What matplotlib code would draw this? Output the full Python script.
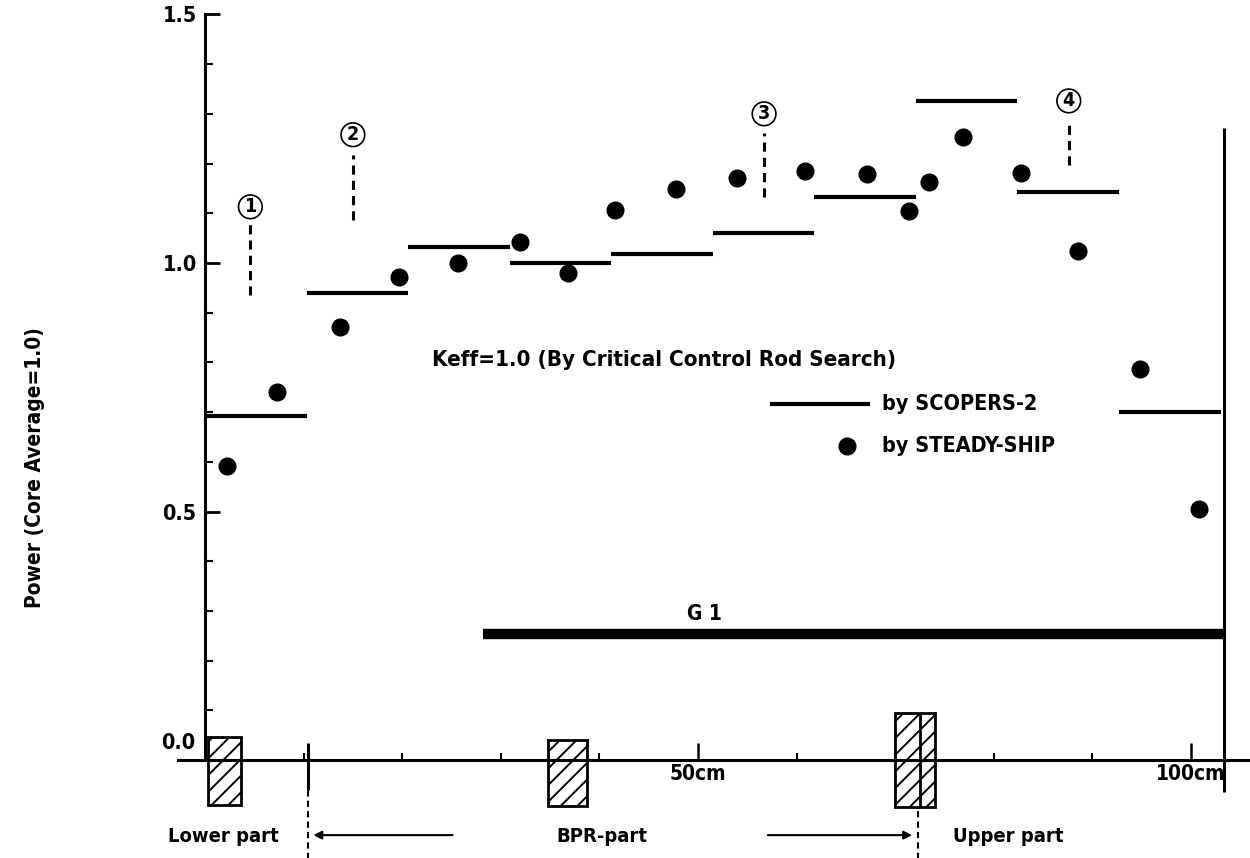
"""
Axial power distribution: SCOPERS-2 node powers vs STEADY-SHIP points.
"""
import matplotlib
matplotlib.use("Agg")
import matplotlib.pyplot as plt
from matplotlib.patches import Rectangle

plt.rcParams["font.family"] = ["DejaVu Sans"]
plt.rcParams["font.stretch"] = "condensed"
plt.rcParams["font.weight"] = "bold"
plt.rcParams["hatch.linewidth"] = 1.4

# SCOPERS-2 node boundaries (cm) and node powers
node_edges = [0.0, 10.3, 20.6, 30.9, 41.2, 51.5, 61.8, 72.1, 82.4, 92.7, 103.0]
scopers_power = [0.692, 0.940, 1.032, 1.000, 1.018, 1.060, 1.133, 1.326, 1.143, 0.700]

# STEADY-SHIP points
steady_z = [2.2, 7.3, 13.7, 19.7, 25.7, 31.9, 36.8, 41.6, 47.8, 54.0,
            60.8, 67.1, 71.4, 73.4, 76.9, 82.8, 88.5, 94.8, 100.8]
steady_power = [0.592, 0.740, 0.871, 0.972, 1.000, 1.042, 0.980, 1.107, 1.149, 1.171,
                1.185, 1.179, 1.105, 1.163, 1.254, 1.181, 1.024, 0.787, 0.505]

# G1 rod insertion
g1_span = (28.2, 103.3)
g1_level = 0.254

# grid spacers (hatched) along the axis
spacer_spans = [(0.3, 3.7), (34.8, 38.7), (70.0, 74.0)]
spacer_top = [0.046, 0.040, 0.095]
spacer_bottom = [-0.091, -0.093, -0.095]

# numbered marks
mark_labels = ["1", "2", "3", "4"]
mark_z = [4.6, 15.0, 56.7, 87.6]
mark_level = [1.113, 1.258, 1.300, 1.326]
mark_dash_lo = [0.936, 1.087, 1.133, 1.197]
mark_dash_hi = [1.080, 1.217, 1.262, 1.288]

part_labels = ["Lower part", "BPR-part", "Upper part"]
part_z = [1.9, 40.3, 81.5]
bpr_start, bpr_end = 10.4, 72.3
core_top = 103.3

fig = plt.figure(figsize=(12.5, 8.58), dpi=100)
ax = fig.add_axes([0, 0, 1, 1])
ax.set_xlim(-20.79, 105.98)
ax.set_ylim(-0.197, 1.529)

for side in ["top", "right"]:
    ax.spines[side].set_visible(False)
ax.spines["left"].set_position(("data", 0))
ax.spines["left"].set_bounds(0, 1.5)
ax.spines["bottom"].set_position(("data", 0))
ax.spines["bottom"].set_bounds(-2.7, 105.98)
for side in ["left", "bottom"]:
    ax.spines[side].set_linewidth(2.2)

ax.set_yticks([0.5, 1.0, 1.5], ["0.5", "1.0", "1.5"])
ax.set_yticks([v / 10 for v in range(1, 15) if v % 5], minor=True)
ax.set_xticks([50, 100], ["50cm", "100cm"])
ax.set_xticks([10, 20, 30, 40, 60, 70, 80, 90], minor=True)
ax.tick_params(axis="y", which="major", direction="in", length=11, width=2,
               labelsize=15.5, pad=6)
ax.tick_params(axis="y", which="minor", direction="in", length=6, width=1.5)
ax.tick_params(axis="x", which="major", direction="in", length=12, width=1.8,
               labelsize=15, pad=3)
ax.tick_params(axis="x", which="minor", direction="in", length=5, width=1.5)
ax.text(-1.0, 0.035, "0.0", ha="right", va="center", fontsize=15.5)

ax.text(-17.2, 0.588, "Power (Core Average=1.0)", rotation=90,
        ha="center", va="center", fontsize=15)

# SCOPERS-2 steps and STEADY-SHIP points
ax.hlines(scopers_power, node_edges[:-1], node_edges[1:], colors="black",
          linewidth=3)
ax.plot(steady_z, steady_power, "o", color="black", markersize=12, linestyle="none")

# G1 bar
ax.hlines(g1_level, g1_span[0], g1_span[1], colors="black", linewidth=7.5)
ax.text(50.7, 0.294, "G 1", ha="center", va="center", fontsize=15)
ax.vlines(core_top, -0.064, 1.272, colors="black", linewidth=2.2)

# numbered marks
for lab, z, lev, lo, hi in zip(mark_labels, mark_z, mark_level, mark_dash_lo, mark_dash_hi):
    ax.vlines(z, lo, hi, colors="black", linewidth=2.2, linestyles=(0, (3, 2)))
    ax.text(z, lev, lab, ha="center", va="center", fontsize=14,
            bbox=dict(boxstyle="circle,pad=0.12", fc="white", ec="black", lw=1.2))

# annotations / legend
ax.text(23.0, 0.805, "Keff=1.0 (By Critical Control Rod Search)",
        ha="left", va="center", fontsize=16)
ax.plot([57.5, 67.2], [0.716, 0.716], color="black", linewidth=3)
ax.text(68.7, 0.716, "by SCOPERS-2", ha="left", va="center", fontsize=15.5)
ax.plot([65.1], [0.632], "o", color="black", markersize=12)
ax.text(68.7, 0.632, "by STEADY-SHIP", ha="left", va="center", fontsize=15.5)

# hatched spacers
for (z0, z1), top, bot in zip(spacer_spans, spacer_top, spacer_bottom):
    ax.add_patch(Rectangle((z0, bot), z1 - z0, top - bot, fill=False,
                           hatch="//", edgecolor="black", linewidth=2))
ax.vlines(72.5, spacer_bottom[2], spacer_top[2], colors="black", linewidth=2)

# BPR region markers
ax.vlines(bpr_start, -0.06, 0.035, colors="black", linewidth=2.2)
ax.vlines(bpr_start, -0.2, -0.06, colors="black", linewidth=1.5, linestyles=(0, (3, 2)))
ax.vlines(bpr_end, -0.2, -0.095, colors="black", linewidth=1.5, linestyles=(0, (3, 2)))
arrow = dict(arrowstyle="-|>", color="black", lw=1.5, mutation_scale=12)
ax.annotate("", xy=(bpr_start + 0.3, -0.151), xytext=(25.4, -0.151), arrowprops=arrow)
ax.annotate("", xy=(bpr_end - 0.3, -0.151), xytext=(56.8, -0.151), arrowprops=arrow)
for lab, z in zip(part_labels, part_z):
    ax.text(z, -0.153, lab, ha="center", va="center", fontsize=14.5)

fig.savefig("out.png", dpi=100)
